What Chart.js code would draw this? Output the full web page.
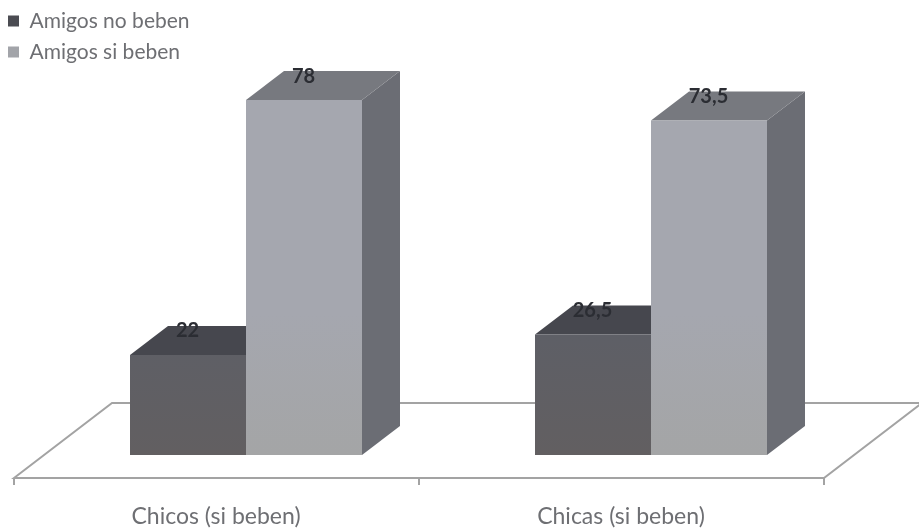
<!DOCTYPE html>
<html lang="es">
<head>
<meta charset="utf-8">
<title>Amigos que beben</title>
<style>
  html, body { margin: 0; padding: 0; background: #ffffff; }
  #wrap { position: relative; width: 919px; height: 530px; }
</style>
<script src="https://cdn.jsdelivr.net/npm/chart.js@4"></script>
</head>
<body>
<div id="wrap"><canvas id="chart" width="919" height="530"></canvas></div>
<script>
const categories = ['Chicos (si beben)', 'Chicas (si beben)'];
const seriesNames = ['Amigos no beben', 'Amigos si beben'];
const amigosNoBeben = [22, 26.5];
const amigosSiBeben = [78, 73.5];

// Oblique projection used for the side and top faces of each block
const DEPTH_X = 38;
const DEPTH_Y = 29;
const TEXT_FONT = 'Lato, "Open Sans", sans-serif';

const FACES = [
  { front: ['#5d5f67', '#625f61'], top: '#46474e', side: '#55565b', swatch: '#4b4c52' },
  { front: ['#a5a7af', '#a4a5a6'], top: '#77797f', side: '#6b6d74', swatch: '#a2a4a9' }
];

function frontGradient(ctx, stops, yTop, yBottom) {
  const g = ctx.createLinearGradient(0, yTop, 0, yBottom);
  g.addColorStop(0, stops[0]);
  g.addColorStop(0.6, stops[0]);
  g.addColorStop(1, stops[1]);
  return g;
}

function polygon(ctx, pts, fill) {
  ctx.beginPath();
  pts.forEach((p, i) => (i ? ctx.lineTo(p[0], p[1]) : ctx.moveTo(p[0], p[1])));
  ctx.closePath();
  ctx.fillStyle = fill;
  ctx.fill();
}

// Perspective floor, block depth faces and value labels around the library's bars
const blocks3d = {
  id: 'blocks3d',
  beforeDraw(chart) {
    // The legend sits in the top left corner, beyond the plot's left edge
    chart.legend.left = -2;
    chart.legend.top = 0.5;
  },
  beforeDatasetsDraw(chart) {
    const { ctx, scales: { x, y } } = chart;
    const base = y.getPixelForValue(0);
    const shift = -29.5;
    const frontY = base + 23;
    const backY = base - 52;
    const run = 98;
    const xStart = x.left + shift;
    const xEnd = x.right + shift;
    const xMid = (xStart + xEnd) / 2;

    ctx.save();
    ctx.strokeStyle = '#a3a3a3';
    ctx.lineWidth = 2;
    ctx.beginPath();
    ctx.moveTo(xStart, frontY);
    ctx.lineTo(xStart + run, backY);
    ctx.lineTo(xEnd + run, backY);
    ctx.lineTo(xEnd, frontY);
    ctx.closePath();
    [xStart, xMid, xEnd].forEach(px => {
      ctx.moveTo(px, frontY);
      ctx.lineTo(px, frontY + 7);
    });
    ctx.stroke();

    chart.data.datasets.forEach((ds, di) => {
      chart.getDatasetMeta(di).data.forEach(bar => {
        const l = bar.x - bar.width / 2;
        const r = bar.x + bar.width / 2;
        const t = bar.y;
        const b = bar.base;
        polygon(ctx, [[r, t], [r + DEPTH_X, t - DEPTH_Y], [r + DEPTH_X, b - DEPTH_Y], [r, b]], FACES[di].side);
        polygon(ctx, [[l, t], [l + DEPTH_X, t - DEPTH_Y], [r + DEPTH_X, t - DEPTH_Y], [r, t]], FACES[di].top);
      });
    });
    ctx.restore();
  },
  afterDatasetsDraw(chart) {
    const { ctx } = chart;
    ctx.save();
    ctx.font = 'bold 20px ' + TEXT_FONT;
    ctx.fillStyle = '#2b2d33';
    ctx.textAlign = 'center';
    ctx.textBaseline = 'middle';
    chart.data.datasets.forEach((ds, di) => {
      chart.getDatasetMeta(di).data.forEach((bar, i) => {
        ctx.fillText(String(ds.data[i]).replace('.', ','), bar.x - 0.5, bar.y - 24);
      });
    });
    ctx.restore();
  }
};

new Chart(document.getElementById('chart'), {
  type: 'bar',
  data: {
    labels: categories,
    datasets: [
      {
        label: seriesNames[0],
        data: amigosNoBeben,
        backgroundColor: c => frontGradient(c.chart.ctx, FACES[0].front, 100, 455)
      },
      {
        label: seriesNames[1],
        data: amigosSiBeben,
        backgroundColor: c => frontGradient(c.chart.ctx, FACES[1].front, 100, 455)
      }
    ]
  },
  options: {
    responsive: false,
    animation: false,
    layout: { padding: { left: 43.5, right: 65.5, top: 0, bottom: 0 } },
    datasets: { bar: { barPercentage: 1, categoryPercentage: 232 / 405, borderWidth: 0 } },
    scales: {
      x: {
        afterFit(scale) { scale.height = 75; },
        border: { display: false },
        grid: { display: false, drawTicks: false },
        ticks: {
          padding: 48,
          labelOffset: -30,
          maxRotation: 0,
          autoSkip: false,
          color: '#6e6f73',
          font: { family: TEXT_FONT, size: 23 }
        }
      },
      y: { display: false, min: 0, max: 100 }
    },
    plugins: {
      tooltip: { enabled: false },
      title: { display: false },
      legend: {
        position: 'chartArea',
        align: 'start',
        labels: {
          boxWidth: 11,
          boxHeight: 11,
          padding: 10,
          color: '#6e6f73',
          font: { family: TEXT_FONT, size: 21 },
          generateLabels: chart => chart.data.datasets.map((ds, i) => ({
            text: ds.label,
            fillStyle: FACES[i].swatch,
            strokeStyle: FACES[i].swatch,
            lineWidth: 0,
            fontColor: '#6e6f73',
            datasetIndex: i
          }))
        }
      }
    }
  },
  plugins: [blocks3d]
});
</script>
</body>
</html>
